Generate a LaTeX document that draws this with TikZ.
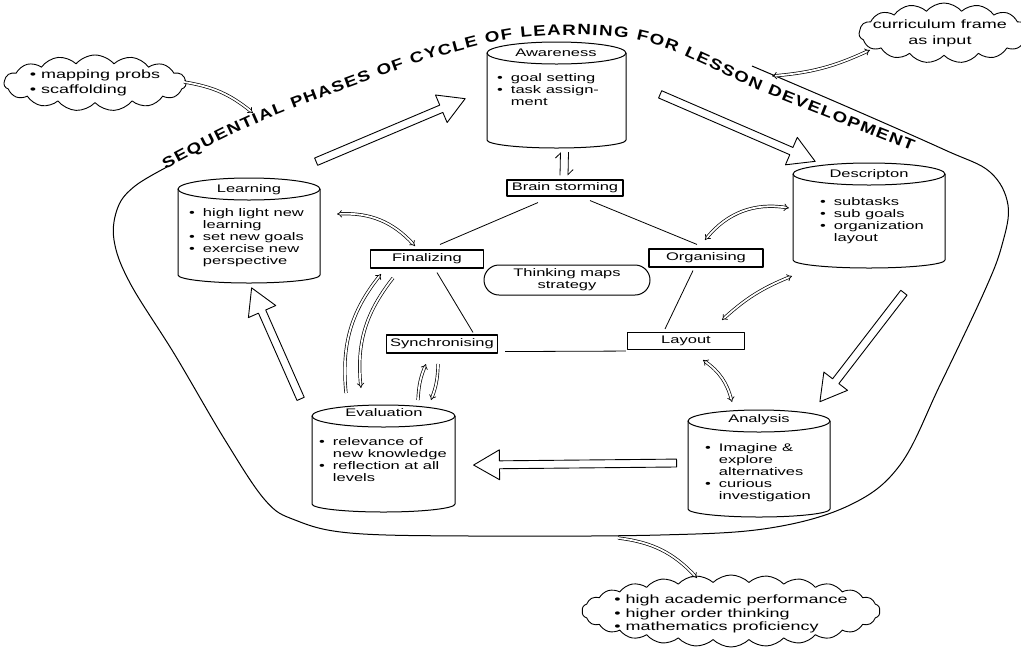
\documentclass[tikz,border=0pt]{standalone}
\usepackage{fontspec}
\setmainfont{Liberation Sans}[FakeStretch=1.5]
\newfontfamily\titlefont{Liberation Sans}[FakeStretch=1.25]
\usetikzlibrary{shapes.geometric,shapes.arrows,shapes.symbols,shapes.misc,arrows.meta,calc,decorations.text}
\newcommand{\titlestyle}{\titlefont\bfseries\fontsize{15}{15}\selectfont}
\newcommand{\blist}[1]{\begin{tabular}{@{}l@{\hspace{8pt}}l@{}}#1\end{tabular}}
\newcommand{\cylat}[5]{%
  \pgfmathsetmacro\cx{(#2+#4)/2}\pgfmathsetmacro\rx{(#4-#2)/2}
  \draw[line width=1pt] (\cx,#3+11) ellipse[x radius=\rx, y radius=11];
  \draw[line width=1pt] (#2,#3+11) -- (#2,#5-8) arc[start angle=180,end angle=0,x radius=\rx,y radius=8] -- (#4,#3+11);
  \node[minimum width=#4-#2, minimum height=#5-#3, inner sep=0pt] (#1) at (\cx,{(#3+#5)/2}) {};
}
\newcommand{\bigarr}[2]{\path let \p1=($(#2)-(#1)$), \n1={atan2(\y1,\x1)}, \n2={veclen(\x1,\y1)} in node[bigarrow, rotate=\n1, minimum height=\n2] at ($(#1)!0.5!(#2)$) {};}
\begin{document}
\begin{tikzpicture}[x=1pt,y=-1pt,line join=round,
  txt/.style={font=\fontsize{11}{12}\selectfont, inner sep=0pt, align=left},
  ttl/.style={font=\fontsize{11}{12}\selectfont, inner sep=0pt},
  box/.style={draw, line width=1.1pt, inner sep=0pt, font=\fontsize{11}{12}\selectfont},
  cloudy/.style={cloud, draw, line width=0.9pt, cloud puffs=15, cloud puff arc=100, cloud ignores aspect, inner sep=0pt},
  ln/.style={line width=0.8pt},
  dbl/.style={draw, line width=0.7pt, double, double distance=1.8pt, -{Implies}},
  dblb/.style={draw, line width=0.7pt, double, double distance=1.8pt, {Implies}-{Implies}},
  bigarrow/.style={single arrow, draw, line width=0.9pt, fill=white, inner sep=0pt, inner ysep=3.5pt, minimum width=0pt, single arrow head extend=11pt, single arrow tip angle=60, single arrow head indent=0pt}]
\useasboundingbox (0,0) rectangle (1021,649);

% boundary
\draw[line width=1pt] plot[smooth, tension=0.6] coordinates {(752,66) (850,108) (945,150) (990,172) (1008,205) (1002,245) (985,290) (940,385) (900,465) (850,505) (770,528) (660,535) (470,536) (350,533) (295,520) (265,500) (225,440) (175,355) (130,283) (114,240) (118,207) (135,186) (167,167)};
\path[decorate, decoration={text along path, text={|\titlestyle|SEQUENTIAL PHASES OF CYCLE OF LEARNING FOR LESSON DEVELOPMENT}, text align=fit to path, raise=1pt}] plot[smooth, tension=0.6] coordinates {(166,170) (260,123) (400,70) (455,53) (512,40) (570,36) (625,39) (665,49) (700,64) (765,94) (912,152)};

% cylinders
\cylat{aw}{487}{42}{626}{148}
\cylat{le}{178}{178}{320}{283}
\cylat{de}{793}{163}{945}{268}
\cylat{ev}{312}{405}{455}{512}
\cylat{an}{688}{410}{830}{517}
\node[ttl] at (556,53) {Awareness};
\node[ttl] at (249,190) {Learning};
\node[ttl] at (869,175) {Descripton};
\node[ttl] at (384,413) {Evaluation};
\node[ttl] at (759,420) {Analysis};
\node[txt, anchor=north west] at (497,73) {\blist{\textbullet & goal setting\\ \textbullet & task assign-\\ & ment}};
\node[txt, anchor=north west] at (189,208) {\blist{\textbullet & high light new\\ & learning\\ \textbullet & set new goals\\ \textbullet & exercise new\\ & perspective}};
\node[txt, anchor=north west] at (820,197) {\blist{\textbullet & subtasks\\ \textbullet & sub goals\\ \textbullet & organization\\ & layout}};
\node[txt, anchor=north west] at (319,437) {\blist{\textbullet & relevance of\\ & new knowledge\\ \textbullet & reflection at all\\ & levels}};
\node[txt, anchor=north west] at (705,443) {\blist{\textbullet & Imagine \&\\ & explore\\ & alternatives\\ \textbullet & curious\\ & investigation}};

% centre boxes
\node[box, minimum width=116, minimum height=16] (bs) at (565,188) {Brain storming};
\node[box, minimum width=113, minimum height=18] (fin) at (427,259) {Finalizing};
\node[box, minimum width=114, minimum height=18] (org) at (706,258) {Organising};
\node[box, minimum width=111, minimum height=18] (syn) at (442,344) {Synchronising};
\node[box, minimum width=117, minimum height=17] (lay) at (686,341) {Layout};
\node[rounded rectangle, draw, line width=1pt, minimum width=166, minimum height=30, inner sep=0pt, align=center, font=\fontsize{11}{12}\selectfont] (tm) at (567,280) {Thinking maps\\strategy};
\draw[ln] ($(bs.south)+(-27,6)$) -- ($(fin.north)+(13,-5)$);
\draw[ln] ($(bs.south)+(25,4)$) -- ($(org.north)+(-9,-4)$);
\draw[ln] ($(fin.south)+(10,4)$) -- ($(syn.north)+(31,-2)$);
\draw[ln] ($(org.south)+(-13,3)$) -- ($(lay.north)+(-21,-3)$);
\draw[ln] ($(syn.south east)+(7,-2)$) -- ($(lay.south west)+(-1,1)$);

% big hollow arrows
\coordinate (a1s) at (313,163); \coordinate (a1e) at (462,100);
\coordinate (a2s) at (657,93);  \coordinate (a2e) at (812,160);
\coordinate (a3s) at (906,290); \coordinate (a3e) at (822,399);
\coordinate (a4s) at (680,463); \coordinate (a4e) at (477,465);
\coordinate (a5s) at (302,402); \coordinate (a5e) at (253,291);
\bigarr{a1s}{a1e}
\bigarr{a2s}{a2e}
\bigarr{a3s}{a3e}
\bigarr{a4s}{a4e}
\bigarr{a5s}{a5e}

% curved double arrows
\coordinate (lf1) at (337,214); \coordinate (lf2) at (415,246);
\draw[dblb] (lf1) to[bend left=25] (lf2);
\coordinate (fe1) at (346,393); \coordinate (fe2) at (381,274);
\draw[dbl] (fe1) to[bend left=22] (fe2);
\coordinate (fe3) at (393,278); \coordinate (fe4) at (361,388);
\draw[dbl] (fe3) to[bend right=22] (fe4);
\coordinate (se1) at (418,400); \coordinate (se2) at (426,364);
\draw[dbl] (se1) to[bend left=10] (se2);
\coordinate (se3) at (438,364); \coordinate (se4) at (431,400);
\draw[dbl] (se3) to[bend left=10] (se4);
\coordinate (od1) at (705,240); \coordinate (od2) at (789,208);
\draw[dblb] (od1) to[bend left=30] (od2);
\coordinate (ld1) at (722,320); \coordinate (ld2) at (792,276);
\draw[dblb] (ld1) to[bend left=10] (ld2);
\coordinate (la1) at (703,360); \coordinate (la2) at (732,402);
\draw[dblb] (la1) to[bend left=20] (la2);
\draw[ln, -{Straight Barb[left, length=5pt]}] ($(bs.north)+(-5,-4)$) -- ($(aw.south)+(4,4)$);
\draw[ln, -{Straight Barb[left, length=5pt]}] ($(aw.south)+(12,4)$) -- ($(bs.north)+(3,-4)$);

% clouds
\node[cloudy, minimum width=182, minimum height=56] (c1) at (95,83) {};
\node[txt, font=\fontsize{12}{15}\selectfont] at (c1) {\textbullet\ mapping probs\\ \textbullet\ scaffolding};
\node[cloudy, minimum width=170, minimum height=60] (c2) at (944,33) {};
\node[txt, align=center, font=\fontsize{12}{16}\selectfont] at (940,33) {curriculum frame\\as input};
\node[cloudy, cloud puffs=26, cloud puff arc=90, minimum width=298, minimum height=72] (c3) at (731,611) {};
\node[txt, font=\fontsize{12}{13.5}\selectfont] at (731,614) {\textbullet\ high academic performance\\ \textbullet\ higher order thinking\\ \textbullet\ mathematics proficiency};

\coordinate (c1a) at (184,82); \coordinate (c1b) at (253,113);
\draw[dbl] (c1a) to[bend left=15] (c1b);
\coordinate (c2a) at (870,50); \coordinate (c2b) at (772,76);
\draw[dblb] (c2a) to[bend left=10] (c2b);
\coordinate (c3a) at (618,538); \coordinate (c3b) at (697,578);
\draw[dbl] (c3a) to[bend left=20] (c3b);
\end{tikzpicture}
\end{document}
